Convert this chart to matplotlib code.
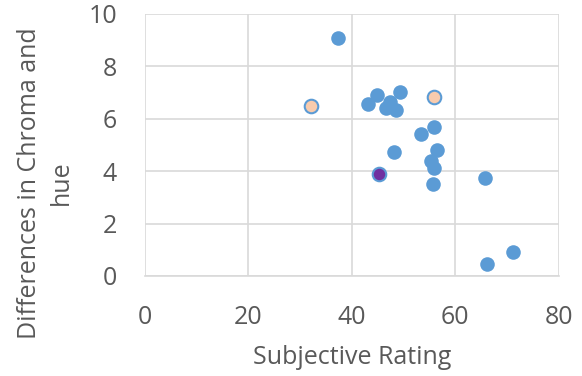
import numpy as np
import matplotlib.pyplot as plt

# blue points
x_blue = [37.3, 44.8, 43.2, 49.3, 47.3, 46.6, 48.6, 55.9, 53.4, 48.2, 56.4, 55.4, 55.9, 55.7, 65.7, 71.2, 66.2]
y_blue = [9.08, 6.91, 6.55, 7.03, 6.65, 6.40, 6.34, 5.70, 5.41, 4.72, 4.81, 4.39, 4.11, 3.51, 3.73, 0.93, 0.45]
# highlighted points
x_peach = [32.2, 55.9]
y_peach = [6.49, 6.84]
x_purple = [45.3]
y_purple = [3.89]

xticks = [0, 20, 40, 60, 80]
yticks = [0, 2, 4, 6, 8, 10]

plt.rcParams['font.family'] = ['Open Sans', 'DejaVu Sans']
grey = '#595959'

fig = plt.figure(figsize=(5.82, 3.76), dpi=100)
ax = fig.add_axes([0.249, 0.266, 0.711, 0.697])

ax.scatter(x_blue, y_blue, s=110, color='#5B9BD5', zorder=3, linewidths=0)
ax.scatter(x_peach, y_peach, s=95, color='#F8CBAD', edgecolors='#5B9BD5', linewidths=1.5, zorder=3)
ax.scatter(x_purple, y_purple, s=95, color='#7030A0', edgecolors='#5B9BD5', linewidths=1.5, zorder=3)

ax.set_xlim(0, 80)
ax.set_ylim(0, 10)
ax.set_xticks(xticks)
ax.set_yticks(yticks)
ax.grid(True, color='#D9D9D9', linewidth=1.2)
ax.set_axisbelow(True)
for s in ['top', 'right', 'left']:
    ax.spines[s].set_visible(False)
ax.spines['bottom'].set_color('#D9D9D9')
ax.spines['bottom'].set_linewidth(1.2)
ax.tick_params(length=0, labelsize=18, labelcolor=grey)
ax.tick_params(axis='x', pad=21)
ax.tick_params(axis='y', pad=20)

ax.set_xlabel('Subjective Rating', fontsize=18, color=grey, labelpad=11)
ax.set_ylabel('Differences in Chroma and\nhue', fontsize=18, color=grey, linespacing=1.4)
ax.yaxis.set_label_coords(-0.171, 0.355)

fig.savefig('out.png', dpi=100)
